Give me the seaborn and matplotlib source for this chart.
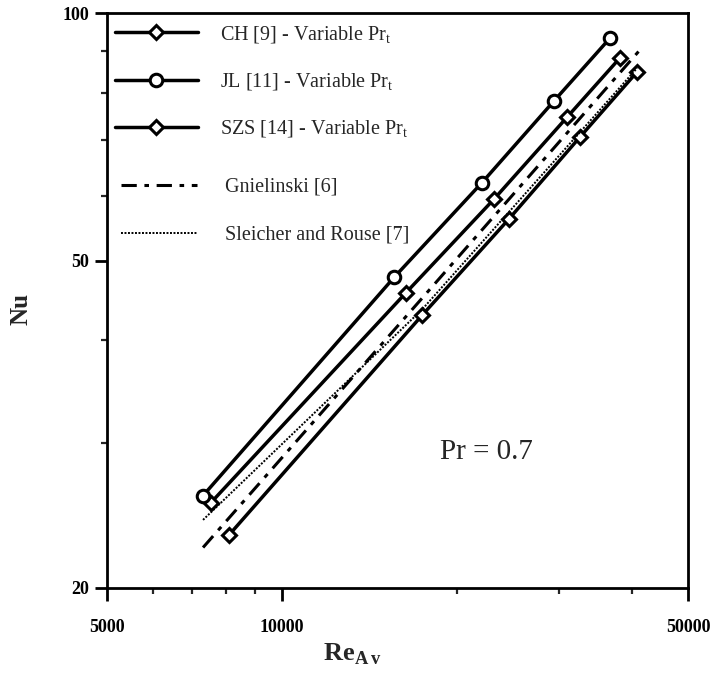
import matplotlib
matplotlib.use("Agg")
import matplotlib.pyplot as plt
import matplotlib.ticker as mticker
import seaborn as sns
import pandas as pd

# ---- data ----
ch_re = [7550, 16350, 23180, 30960, 38190]
ch_nu = [25.4, 45.7, 59.4, 74.7, 88.2]

jl_re = [7316, 15594, 22100, 29410, 36700]
jl_nu = [25.9, 47.7, 62.2, 78.2, 93.2]

szs_re = [8110, 17425, 24600, 32600, 40860]
szs_nu = [23.2, 42.9, 56.2, 70.7, 84.8]

gn_re = [7316, 17425, 41340]
gn_nu = [22.4, 45.0, 90.2]

sr_re = [7316, 17425, 40860]
sr_nu = [24.2, 43.6, 85.7]

x_major = [5000, 10000, 50000]
x_minor = [6000, 7000, 8000, 9000, 20000, 30000, 40000]
y_major = [20, 50, 100]
y_minor = [30, 40, 60, 70, 80, 90]

labels = ["CH [9] - Variable Pr$_\\mathregular{t}$",
          "JL [11] - Variable Pr$_\\mathregular{t}$",
          "SZS [14] - Variable Pr$_\\mathregular{t}$",
          "Gnielinski [6]",
          "Sleicher and Rouse [7]"]

sns.set_style("ticks")
plt.rcParams["font.family"] = ["Liberation Serif", "DejaVu Serif"]
plt.rcParams["mathtext.fontset"] = "custom"
plt.rcParams["mathtext.rm"] = "Liberation Serif"
plt.rcParams["mathtext.bf"] = "Liberation Serif:bold"

fig = plt.figure(figsize=(7.17, 6.74), dpi=100)
ax = fig.add_axes([107 / 717, 1 - 588 / 674, (688 - 107) / 717, (588 - 13) / 674])

def df(x, y):
    return pd.DataFrame({"Re": x, "Nu": y})

mk = dict(color="black", linewidth=2.5, markerfacecolor="white",
          markeredgecolor="black", markeredgewidth=2.2)

sns.lineplot(data=df(ch_re, ch_nu), x="Re", y="Nu", ax=ax, marker="D",
             markersize=7.2, label=labels[0], **mk)
sns.lineplot(data=df(jl_re, jl_nu), x="Re", y="Nu", ax=ax, marker="o",
             markersize=9, label=labels[1], **mk)
sns.lineplot(data=df(szs_re, szs_nu), x="Re", y="Nu", ax=ax, marker="D",
             markersize=7.2, label=labels[2], **mk)
sns.lineplot(data=df(gn_re, gn_nu), x="Re", y="Nu", ax=ax, color="black",
             linewidth=2.2, label=labels[3])
ax.lines[-1].set_dashes([5, 2.5, 1.5, 2.5])
sns.lineplot(data=df(sr_re, sr_nu), x="Re", y="Nu", ax=ax, color="black",
             linewidth=1.4, label=labels[4])
ax.lines[-1].set_dashes([1, 0.8])

ax.set_xscale("log")
ax.set_yscale("log")
ax.set_xlim(5000, 50000)
ax.set_ylim(20, 100)

ax.xaxis.set_major_locator(mticker.FixedLocator(x_major))
ax.xaxis.set_minor_locator(mticker.FixedLocator(x_minor))
ax.yaxis.set_major_locator(mticker.FixedLocator(y_major))
ax.yaxis.set_minor_locator(mticker.FixedLocator(y_minor))
ax.xaxis.set_major_formatter(mticker.FixedFormatter([str(v) for v in x_major]))
ax.yaxis.set_major_formatter(mticker.FixedFormatter([str(v) for v in y_major]))
ax.xaxis.set_minor_formatter(mticker.NullFormatter())
ax.yaxis.set_minor_formatter(mticker.NullFormatter())

for s in ax.spines.values():
    s.set_linewidth(2.0)
    s.set_color("black")
    s.set_visible(True)

ax.tick_params(which="major", direction="out", length=9, width=2,
               labelsize=13, colors="black")
ax.tick_params(which="minor", direction="out", length=4.5, width=1.6)
ax.tick_params(axis="x", which="major", pad=13)
ax.tick_params(axis="y", which="major", pad=4)
for t in ax.get_xticklabels() + ax.get_yticklabels():
    t.set_fontweight("bold")

ax.set_xlabel("Re$_{\\mathbf{A\\,v}}$", fontsize=19, fontweight="bold")
ax.xaxis.set_label_coords(0.422, -0.093)
ax.set_ylabel("Nu", fontsize=18, fontweight="bold")
ax.yaxis.set_label_coords(-0.128, 0.485)

ax.text(0.573, 0.2365, "Pr = 0.7", fontsize=21, ha="left", va="center",
        transform=ax.transAxes)

handles, hlabels = ax.get_legend_handles_labels()
leg1 = ax.legend(handles[:3], hlabels[:3], loc="upper left", frameon=False,
                 fontsize=14.5, handlelength=4.1, handletextpad=1.1,
                 labelspacing=1.3, borderaxespad=0.0,
                 bbox_to_anchor=(0.0, 0.9948))
ax.add_artist(leg1)
leg2 = ax.legend(handles[3:], hlabels[3:], loc="upper left", frameon=False,
                 fontsize=14.5, handlelength=3.75, handletextpad=1.4,
                 labelspacing=1.45, borderaxespad=0.0,
                 bbox_to_anchor=(0.011, 0.728))

fig.savefig("out.png", dpi=100, facecolor="white")
